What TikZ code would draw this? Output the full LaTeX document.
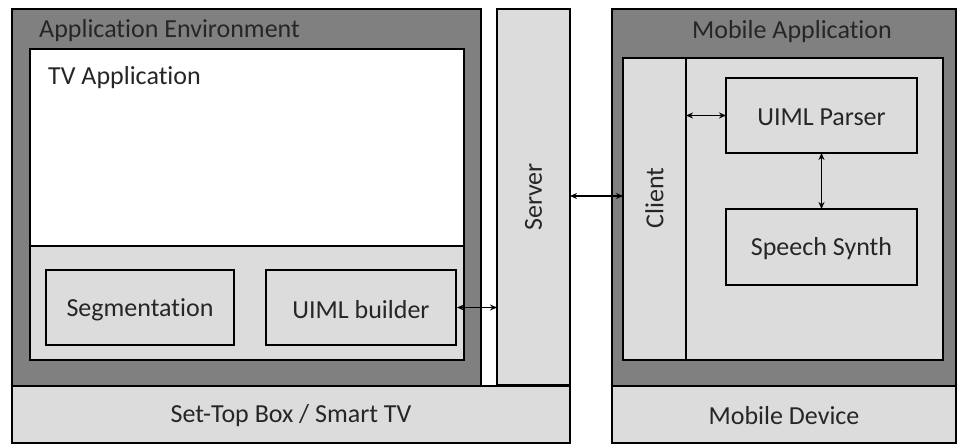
\documentclass[tikz,border=0pt]{standalone}
\usepackage{fontspec}
\setmainfont{Carlito}[Ligatures=NoCommon]
\usetikzlibrary{arrows.meta}
\definecolor{dg}{RGB}{128,128,128}
\definecolor{lg}{RGB}{220,220,220}
\begin{document}
\begin{tikzpicture}[x=1pt,y=-1pt,
  box/.style={draw=black,line width=2.6pt,rectangle,inner sep=0pt,outer sep=0pt,anchor=north west},
  lbl/.style={font=\fontsize{26}{30}\selectfont,text=black!85,inner sep=0pt},
  link/.style={line width=1.8pt,{Stealth[length=7pt,width=6pt]}-{Stealth[length=7pt,width=6pt]}}]
\useasboundingbox (0,0) rectangle (958,444);
% left side
\node[box,fill=lg,minimum width=558,minimum height=57] (stb) at (12,386) {};
\node[box,fill=dg,minimum width=469,minimum height=377] (appenv) at (12,9) {};
\node[box,fill=lg,minimum width=73,minimum height=376] (server) at (497,9) {};
\node[box,fill=lg,minimum width=434,minimum height=114] (lower) at (30,246) {};
\node[box,fill=white,minimum width=434,minimum height=197] (tvapp) at (30,49) {};
\node[box,fill=lg,minimum width=188,minimum height=75] (seg) at (46,270) {};
\node[box,fill=lg,minimum width=190,minimum height=75] (uimlb) at (266,270) {};
\node[lbl,anchor=west] (appenvlbl) at (39,31) {Application Environment};
\node[lbl,anchor=west] (tvlbl) at (48,78) {TV Application};
\node[lbl] (seglbl) at ([yshift=-2.5]seg.center) {Segmentation};
\node[lbl] (uimlblbl) at ([yshift=-2.5]uimlb.center) {UIML builder};
\node[lbl,rotate=90] (serverlbl) at (server.center) {Server};
\node[lbl] (stblbl) at ([yshift=-1.5]stb.center) {Set-Top Box / Smart TV};
% right side
\node[box,fill=lg,minimum width=344,minimum height=57] (mdev) at (612,386) {};
\node[box,fill=dg,minimum width=344,minimum height=377] (mapp) at (612,9) {};
\node[box,fill=lg,minimum width=320,minimum height=302] (minner) at (623,58) {};
\node[box,fill=lg,minimum width=63,minimum height=302] (client) at (623,58) {};
\node[box,fill=lg,minimum width=191,minimum height=75] (parser) at (726,78) {};
\node[box,fill=lg,minimum width=191,minimum height=76] (synth) at (726,209) {};
\node[lbl] (mapplbl) at (792,32) {Mobile Application};
\node[lbl,rotate=90] (clientlbl) at ([yshift=11]client.center) {Client};
\node[lbl] (parserlbl) at ([yshift=-2]parser.center) {UIML Parser};
\node[lbl] (synthlbl) at ([yshift=-2]synth.center) {Speech Synth};
\node[lbl] (mdevlbl) at ([yshift=-1.5]mdev.center) {Mobile Device};
% connectors
\draw[link] (uimlb.east) ++(1,0) coordinate (a1) -- (a1 -| server.west);
\draw[link] (server.east |- 0,196) coordinate (a2) -- (a2 -| client.west);
\draw[link] (client.east |- parser.west) -- (parser.west);
\draw[link] (parser.south) -- (synth.north);
\end{tikzpicture}
\end{document}
